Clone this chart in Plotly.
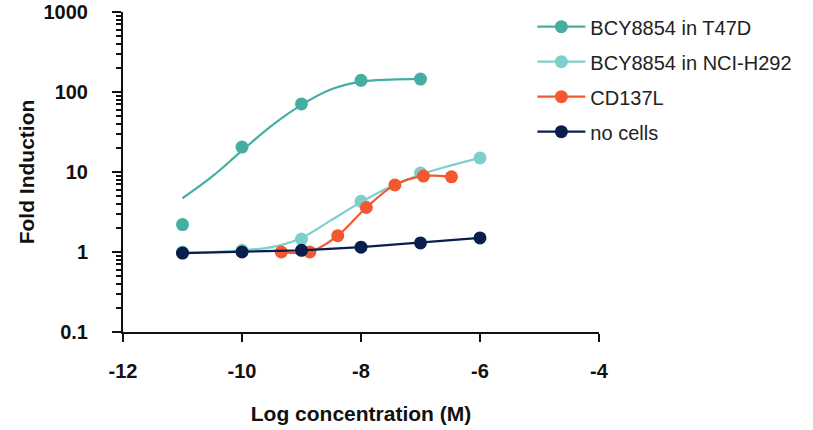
import plotly.graph_objects as go

# ---- data ----
t47d_x = [-11, -10, -9, -8, -7]
t47d_y = [2.2, 20.5, 71, 140, 145]
t47d_fit_x = [-11, -10.5, -10, -9.5, -9, -8.5, -8, -7.5, -7]
t47d_fit_y = [4.7, 8.8, 18.5, 38, 69, 108, 135, 143, 146]

nci_x = [-11, -10, -9, -8, -7, -6]
nci_y = [1.0, 1.05, 1.45, 4.3, 9.7, 15]
nci_fit_x = [-11, -10.5, -10, -9.5, -9, -8.5, -8, -7.5, -7, -6.5, -6]
nci_fit_y = [0.98, 1.0, 1.05, 1.15, 1.5, 2.5, 4.2, 6.6, 9.3, 12, 15]

cd_x = [-9.34, -8.86, -8.39, -7.91, -7.43, -6.95, -6.48]
cd_y = [1.0, 1.0, 1.6, 3.6, 6.9, 8.9, 8.7]

nocell_x = [-11, -10, -9, -8, -7, -6]
nocell_y = [0.97, 1.0, 1.05, 1.15, 1.3, 1.5]

names = ["BCY8854 in T47D", "BCY8854 in NCI-H292", "CD137L", "no cells"]
colors = ["#46ADA3", "#7DCFCB", "#F4582F", "#0A1E4E"]

y_tickvals = [0.1, 1, 10, 100, 1000]
y_ticktext = ["0.1", "1", "10", "100", "1000"]
x_tickvals = [-12, -10, -8, -6, -4]
x_ticktext = ["-12", "-10", "-8", "-6", "-4"]

FONT = "Liberation Sans, Arial, Helvetica, sans-serif"

fig = go.Figure()

# fitted curves (no legend)
fig.add_trace(go.Scatter(x=t47d_fit_x, y=t47d_fit_y, mode="lines",
                         line=dict(color=colors[0], width=2.2, shape="spline"),
                         showlegend=False, hoverinfo="skip"))
fig.add_trace(go.Scatter(x=nci_fit_x, y=nci_fit_y, mode="lines",
                         line=dict(color=colors[1], width=2.2, shape="spline"),
                         showlegend=False, hoverinfo="skip"))

# data points
fig.add_trace(go.Scatter(x=t47d_x, y=t47d_y, mode="markers", name=names[0],
                         marker=dict(color=colors[0], size=13),
                         legendgroup="a", showlegend=False))
fig.add_trace(go.Scatter(x=nci_x, y=nci_y, mode="markers", name=names[1],
                         marker=dict(color=colors[1], size=13),
                         legendgroup="b", showlegend=False))
fig.add_trace(go.Scatter(x=cd_x, y=cd_y, mode="lines+markers", name=names[2],
                         line=dict(color=colors[2], width=2.2, shape="spline"),
                         marker=dict(color=colors[2], size=13),
                         legendgroup="c", legendrank=3))
fig.add_trace(go.Scatter(x=nocell_x, y=nocell_y, mode="lines+markers", name=names[3],
                         line=dict(color=colors[3], width=2.2),
                         marker=dict(color=colors[3], size=13),
                         legendgroup="d", legendrank=4))

# legend keys (line + marker) for the fitted series
fig.add_trace(go.Scatter(x=[None], y=[None], mode="lines+markers", name=names[0],
                         line=dict(color=colors[0], width=2.2),
                         marker=dict(color=colors[0], size=13), legendgroup="a",
                         legendrank=1))
fig.add_trace(go.Scatter(x=[None], y=[None], mode="lines+markers", name=names[1],
                         line=dict(color=colors[1], width=2.2),
                         marker=dict(color=colors[1], size=13), legendgroup="b",
                         legendrank=2))

fig.update_layout(
    width=813, height=430,
    margin=dict(l=123, r=214, t=12, b=98, autoexpand=False),
    paper_bgcolor="white", plot_bgcolor="white",
    font=dict(family=FONT, color="#111111"),
    legend=dict(x=0.86, y=1.015, xanchor="left", yanchor="top",
                font=dict(size=20, family=FONT, color="#222222"),
                tracegroupgap=6, bgcolor="rgba(0,0,0,0)", itemwidth=48),
    showlegend=True,
)

fig.update_xaxes(
    range=[-12, -4], tickvals=x_tickvals, ticktext=x_ticktext,
    automargin=False,
    showline=True, linecolor="#111111", linewidth=2,
    ticks="outside", ticklen=8, tickwidth=2, tickcolor="#111111",
    ticklabelstandoff=12,
    showgrid=False, zeroline=False,
    tickfont=dict(size=20, family=FONT, color="#111111", weight="bold"),
    title=dict(text="<b>Log concentration (M)</b>", font=dict(size=21, family=FONT), standoff=25),
)
fig.update_yaxes(
    type="log", range=[-1, 3], tickvals=y_tickvals, ticktext=y_ticktext,
    automargin=False,
    showline=True, linecolor="#111111", linewidth=2,
    ticks="outside", ticklen=9, tickwidth=2, tickcolor="#111111",
    ticklabelstandoff=20, ticklabeloverflow="allow",
    minor=dict(ticks="outside", ticklen=5, tickwidth=1.5, tickcolor="#111111", dtick="D1", showgrid=False),
    showgrid=False, zeroline=False,
    tickfont=dict(size=20, family=FONT, color="#111111", weight="bold"),
    title=dict(text="<b>Fold Induction</b>", font=dict(size=21, family=FONT), standoff=3),
)

fig.write_html("out.html", config={"displayModeBar": False},
               post_script="document.body.style.margin='0';")
